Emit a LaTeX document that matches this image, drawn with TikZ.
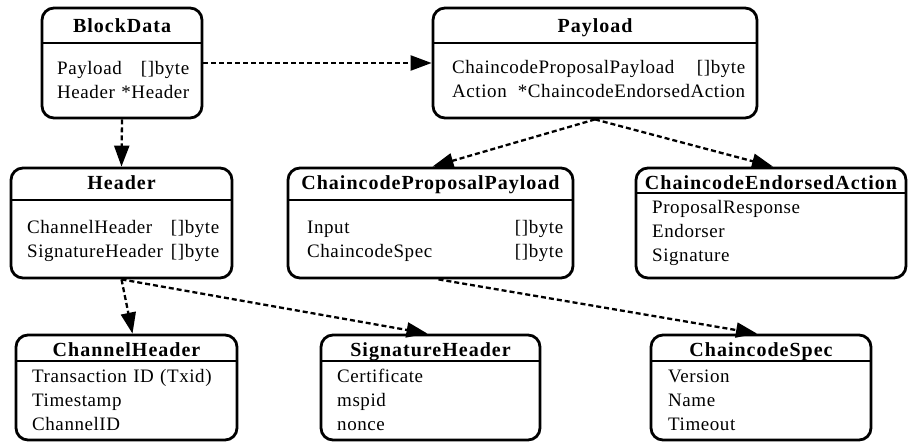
\documentclass[tikz,border=0pt]{standalone}
\usepackage{fontspec}
\setmainfont{Liberation Serif}
\newfontfamily\titlefont{Liberation Serif}[LetterSpace=5]
\newfontfamily\bodyfont{Liberation Serif}[LetterSpace=3]
\usetikzlibrary{arrows.meta,fit}
\tikzset{
  umlbox/.style={draw, line width=2.8pt, rounded corners=12pt, inner sep=0pt},
  sepline/.style={line width=2.8pt},
  titletext/.style={inner sep=0pt, font=\titlefont\bfseries\fontsize{20}{24}\selectfont},
  bodytext/.style={inner sep=0pt, align=left, font=\bodyfont\fontsize{19}{24}\selectfont},
  conn/.style={line width=2.3pt, dash pattern=on 5pt off 3pt, -{Triangle[length=21pt,width=15pt]}}
}
\newcommand\umlframe[6]{%
  \node[umlbox, fit={(#2,#3) (#4,#5)}] (#1) {};
  \draw[sepline] (#2,#6) -- (#4,#6);}
\begin{document}
\begin{tikzpicture}[x=1pt,y=-1pt]
\useasboundingbox (0,0) rectangle (908,445);
% row 1
\umlframe{bd}{42}{8}{202}{118}{43}
\node[titletext, anchor=base] (bdt) at (122,32) {BlockData};
\node[bodytext, anchor=base west, text width=132pt] (bdb) at (57,74) {Payload\hfill[]byte\\Header\hfill*Header};
\umlframe{pl}{433}{8}{757}{118}{43}
\node[titletext, anchor=base] (plt) at (595,32) {Payload};
\node[bodytext, anchor=base west, text width=293pt] (plb) at (452,73) {ChaincodeProposalPayload\hfill[]byte\\Action\hfill*ChaincodeEndorsedAction};
% row 2
\umlframe{hd}{11}{168}{232}{278}{200}
\node[titletext, anchor=base] (hdt) at (121.5,189) {Header};
\node[bodytext, anchor=base west, text width=192pt] (hdb) at (27,233) {ChannelHeader\hfill[]byte\\SignatureHeader\hfill[]byte};
\umlframe{cpp}{288}{168}{573}{278}{200}
\node[titletext, anchor=base] (cppt) at (430.5,189) {ChaincodeProposalPayload};
\node[bodytext, anchor=base west, text width=256pt] (cppb) at (307,233) {Input\hfill[]byte\\ChaincodeSpec\hfill[]byte};
\umlframe{cea}{636}{168}{906}{278}{193}
\node[titletext, anchor=base] (ceat) at (771,189) {ChaincodeEndorsedAction};
\node[bodytext, anchor=base west, text width=240pt] (ceab) at (652,213) {ProposalResponse\\Endorser\\Signature};
% row 3
\umlframe{ch}{16}{335}{237}{440}{361}
\node[titletext, anchor=base] (cht) at (126.5,356) {ChannelHeader};
\node[bodytext, anchor=base west, text width=200pt] (chb) at (32,382) {Transaction ID (Txid)\\Timestamp\\ChannelID};
\umlframe{sh}{321}{335}{540}{440}{361}
\node[titletext, anchor=base] (sht) at (430.5,356) {SignatureHeader};
\node[bodytext, anchor=base west, text width=190pt] (shb) at (337,382) {Certificate\\mspid\\nonce};
\umlframe{cs}{651}{335}{871}{440}{361}
\node[titletext, anchor=base] (cst) at (761,356) {ChaincodeSpec};
\node[bodytext, anchor=base west, text width=190pt] (csb) at (668,382) {Version\\Name\\Timeout};
% connectors
\draw[conn] (bd.east) -- (pl.west);
\draw[conn] (bd.south) -- (hd.north);
\draw[conn] (pl.south) -- ([xshift=2pt]cpp.north);
\draw[conn] (pl.south) -- ([xshift=2pt]cea.north);
\draw[conn] (hd.south) -- ([xshift=6pt]ch.north);
\draw[conn] (hd.south) -- ([xshift=-3pt]sh.north);
\draw[conn] ([xshift=8pt]cpp.south) -- ([xshift=-4pt]cs.north);
\end{tikzpicture}
\end{document}
